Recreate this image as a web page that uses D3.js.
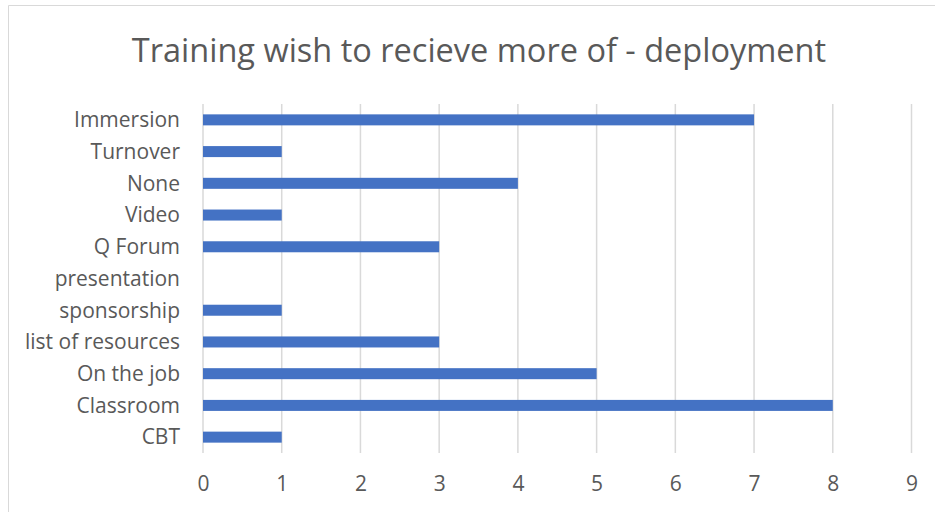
<!DOCTYPE html>
<html><head><meta charset="utf-8">
<script src="https://cdn.jsdelivr.net/npm/d3@7"></script>
<style>body{margin:0;background:#fff;}svg{display:block;}</style>
</head><body>
<svg id="c" width="935" height="512"></svg>
<script>
const categories = ["Immersion","Turnover","None","Video","Q Forum","presentation","sponsorship","list of resources","On the job","Classroom","CBT"];
const values = [7,1,4,1,3,0,1,3,5,8,1];
const xTicks = [0,1,2,3,4,5,6,7,8,9];
const title = "Training wish to recieve more of - deployment";

const svg = d3.select("#c");
const font = "'Open Sans', sans-serif";
const textColor = "#595959";

// chart border
svg.append("path").attr("d","M8.5,512 L8.5,5.5 L935,5.5").attr("fill","none").attr("stroke","#d9d9d9").attr("stroke-width",1);

const x = d3.scaleLinear().domain([0,9]).range([203,911.5]);
const y = d3.scaleBand().domain(categories).range([104,453]).paddingInner(0.653).paddingOuter(0.3265);

// gridlines
svg.append("g").selectAll("line").data(xTicks).join("line")
  .attr("x1",d=>x(d)).attr("x2",d=>x(d)).attr("y1",104).attr("y2",453)
  .attr("stroke","#d9d9d9").attr("stroke-width",1.5);

// bars
svg.append("g").selectAll("rect").data(categories).join("rect")
  .attr("x",x(0)).attr("y",d=>y(d))
  .attr("width",(d,i)=>x(values[i])-x(0)).attr("height",y.bandwidth())
  .attr("fill","#4472C4");

// x axis labels
const xAxis = d3.axisBottom(x).tickValues(xTicks).tickSize(0).tickPadding(0).tickFormat(d3.format("d"));
const gx = svg.append("g").attr("transform","translate(0,476)").call(xAxis);
gx.select(".domain").remove();
gx.selectAll("text").attr("font-family",font).attr("font-size",21).attr("fill",textColor);

// y axis labels
const yAxis = d3.axisLeft(y).tickSize(0).tickPadding(0);
const gy = svg.append("g").attr("transform","translate(180,0)").call(yAxis);
gy.select(".domain").remove();
gy.selectAll("text").attr("font-family",font).attr("font-size",21).attr("fill",textColor).attr("dy","0.35em")
  .attr("textLength",function(){ return null; });

// title
svg.append("text").attr("x",479).attr("y",62).attr("text-anchor","middle")
  .attr("font-family",font).attr("font-size",32.5).attr("fill",textColor).text(title);
</script>
</body></html>
